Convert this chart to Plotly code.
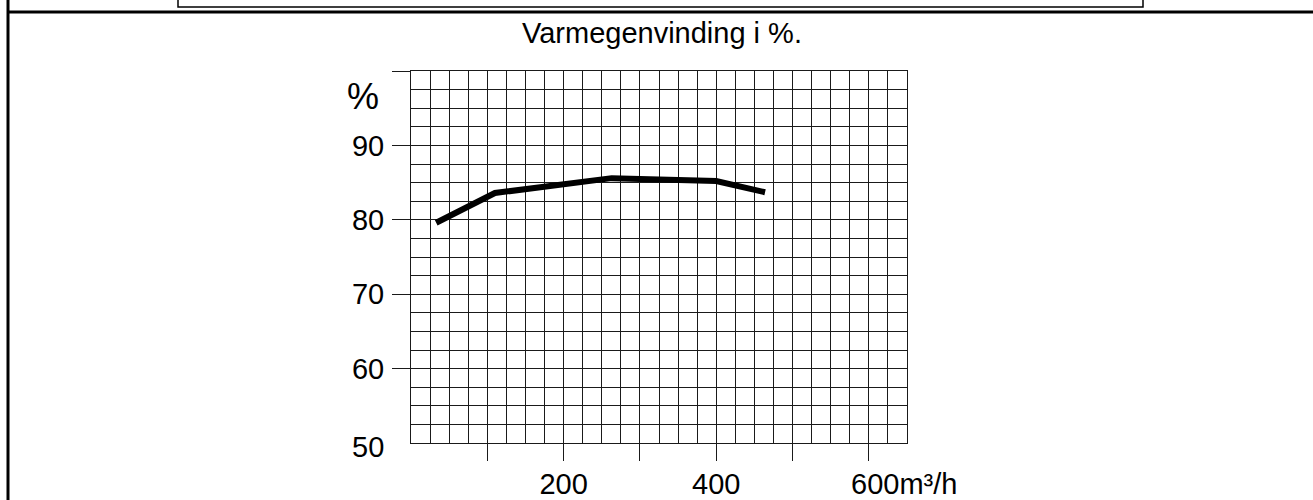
import plotly.graph_objects as go

# ---- data ----
flow_m3h = [33, 110, 263, 400, 464]
heat_recovery_pct = [79.6, 83.6, 85.6, 85.2, 83.7]

x_tickvals = [100, 200, 300, 400, 500, 600]
x_ticktext = ["", "200", "", "400", "", ""]
y_tickvals = [60, 70, 80, 90, 100]
y_ticktext = ["60", "70", "80", "90", ""]
title_text = "Varmegenvinding i %."
unit_label = "600m³/h"
pct_label = "%"

# ---- layout geometry (pixels) ----
W, H = 1313, 500
L, R, T, B = 411, 907, 71, 443  # plot area edges in px


def px_x(px):
    return (px - L) / (R - L)


def px_y(py):
    return (B - py) / (B - T)


FONT = "Liberation Sans, Arial, sans-serif"
GRID = "#1a1a1a"

fig = go.Figure()
fig.add_trace(go.Scatter(
    x=flow_m3h, y=heat_recovery_pct, mode="lines",
    line=dict(color="black", width=6),
    hoverinfo="skip", showlegend=False,
))

fig.update_layout(
    width=W, height=H,
    margin=dict(l=L, r=W - R, t=T, b=H - B, pad=0, autoexpand=False),
    paper_bgcolor="white", plot_bgcolor="white",
    font=dict(family=FONT, size=28, color="black"),
    title=dict(text=title_text, x=662 / W, y=1 - 33 / H,
               xanchor="center", yanchor="middle",
               font=dict(family=FONT, size=29, color="black")),
    showlegend=False,
)

fig.update_xaxes(
    range=[0, 650], tickmode="array", tickvals=x_tickvals, ticktext=x_ticktext,
    ticks="outside", ticklen=17, tickwidth=1, tickcolor=GRID,
    showgrid=True, gridcolor=GRID, gridwidth=1,
    minor=dict(dtick=25, tick0=0, showgrid=True, gridcolor=GRID, gridwidth=1, ticks=""),
    showline=True, linecolor=GRID, linewidth=1, mirror=True,
    zeroline=False, ticklabelstandoff=-2, automargin=False,
    tickfont=dict(family=FONT, size=29, color="black"),
)
fig.update_yaxes(
    range=[50, 100], tickmode="array", tickvals=y_tickvals, ticktext=y_ticktext,
    ticks="outside", ticklen=18, tickwidth=1, tickcolor=GRID,
    showgrid=True, gridcolor=GRID, gridwidth=1,
    minor=dict(dtick=2.5, tick0=50, showgrid=True, gridcolor=GRID, gridwidth=1, ticks=""),
    showline=True, linecolor=GRID, linewidth=1, mirror=True,
    zeroline=False, ticklabelstandoff=2, automargin=False,
    tickfont=dict(family=FONT, size=29, color="black"),
)

# "50" label (no tick mark at the bottom in the reference)
fig.add_annotation(x=0, xref="paper", xanchor="right", xshift=-25,
                   y=50, yref="y", yanchor="middle", yshift=-4,
                   text="50", showarrow=False,
                   font=dict(family=FONT, size=29, color="black"))
# "%" unit label
fig.add_annotation(x=0, xref="paper", xanchor="right", xshift=-30,
                   y=96.6, yref="y", yanchor="middle",
                   text=pct_label, showarrow=False,
                   font=dict(family=FONT, size=36, color="black"))
# "600m³/h" label
fig.add_annotation(x=600, xref="x", xanchor="left", xshift=-20,
                   y=px_y(484), yref="paper", yanchor="middle",
                   text=unit_label, showarrow=False,
                   font=dict(family=FONT, size=29, color="black"))

# page frame decorations
fig.add_shape(type="line", xref="paper", yref="paper",
              x0=px_x(8), x1=px_x(8), y0=px_y(-5), y1=px_y(505),
              line=dict(color="black", width=3))
fig.add_shape(type="line", xref="paper", yref="paper",
              x0=px_x(8), x1=px_x(1320), y0=px_y(12), y1=px_y(12),
              line=dict(color="black", width=3))
fig.add_shape(type="rect", xref="paper", yref="paper",
              x0=px_x(178), x1=px_x(1143), y0=px_y(7), y1=px_y(-10),
              line=dict(color="black", width=1.5))

fig.write_html("out.html", config={"displayModeBar": False},
               post_script="document.body.style.margin='0';document.body.style.overflow='hidden';")
